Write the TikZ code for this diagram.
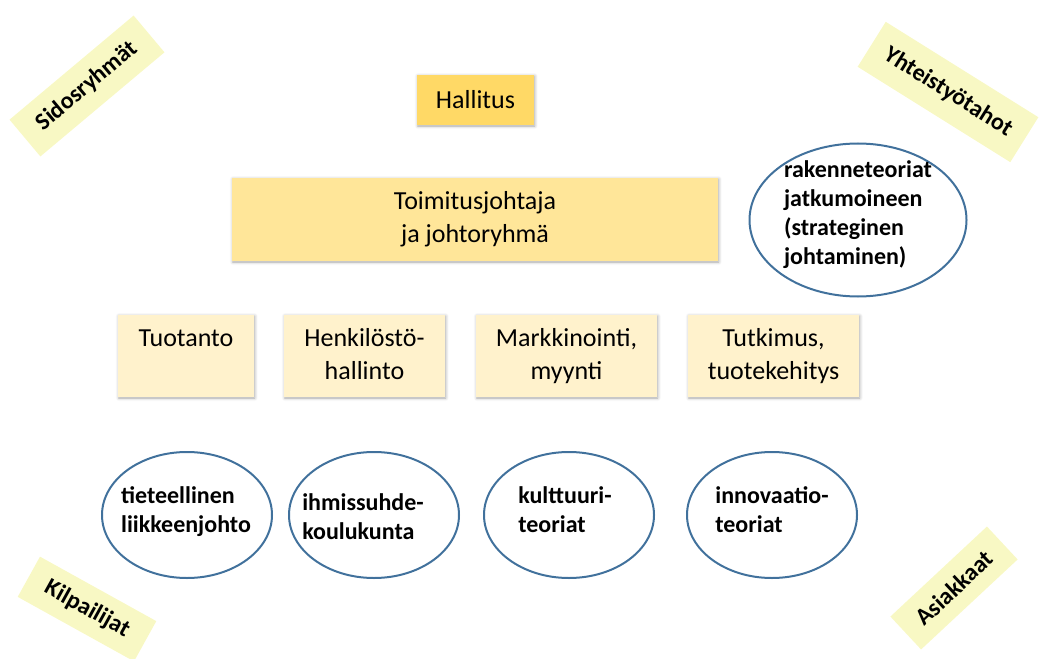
\documentclass[tikz,border=0pt]{standalone}
\usepackage{fontspec}
\setmainfont{Carlito}
\usetikzlibrary{shapes.geometric, shadows.blur}

\definecolor{hallcol}{HTML}{FFD966}
\definecolor{johtocol}{HTML}{FFE699}
\definecolor{unitcol}{HTML}{FFF2CC}
\definecolor{tagcol}{HTML}{F8F8C4}
\definecolor{ringcol}{HTML}{41719C}

\begin{document}
\begin{tikzpicture}[x=0.75pt, y=-0.75pt,
    orgbox/.style={align=center, inner sep=0pt,
        font=\fontsize{19.5}{24.75}\selectfont,
        blur shadow={shadow xshift=0.6pt, shadow yshift=-0.8pt,
            shadow blur radius=2.2pt, shadow opacity=35}},
    unitbox/.style={orgbox, fill=unitcol, minimum height=61.5pt},
    theory/.style={ellipse, draw=ringcol, line width=1.5pt, inner sep=0pt},
    theorytxt/.style={align=left, inner sep=0pt,
        font=\bfseries\fontsize{18}{21.75}\selectfont},
    tag/.style={fill=tagcol, inner sep=0pt,
        font=\bfseries\fontsize{18}{21}\selectfont}]

    \useasboundingbox (0,0) rectangle (1041,659);

    % 1. Management
    \node[orgbox, fill=hallcol, minimum width=87.75pt, minimum height=37.5pt]
        (hallitus) at (475.5,100) {Hallitus};
    \node[orgbox, fill=johtocol, minimum width=364.5pt, minimum height=62.25pt]
        (johto) at (475,219.5) {\strut Toimitusjohtaja\\\strut ja johtoryhmä};

    % 2. Functions (text sits at the top of each box)
    \node[unitbox, minimum width=102pt]    (tuotanto) at (186,356)   {\strut Tuotanto\\\strut};
    \node[unitbox, minimum width=120.75pt] (henk)     at (364.5,356) {\strut Henkilöstö-\\\strut hallinto};
    \node[unitbox, minimum width=135.75pt] (mark)     at (566.5,356) {\strut Markkinointi,\\\strut myynti};
    \node[unitbox, minimum width=128.25pt] (tutk)     at (773.5,356) {\strut Tutkimus,\\\strut tuotekehitys};

    % 3. Theories
    \node[theory, minimum width=162.75pt, minimum height=114.75pt] (rakenne) at (858,220) {};
    \node[theorytxt] (rakennetxt) at (858,215)
        {\strut rakenneteoriat\\\strut jatkumoineen\\\strut (strateginen\\\strut johtaminen)};

    \node[theory, minimum width=127.5pt, minimum height=94.5pt] (tiet) at (187,515) {};
    \node[theory, minimum width=127.5pt, minimum height=94.5pt] (ihm)  at (374,515) {};
    \node[theory, minimum width=127.5pt, minimum height=94.5pt] (kult) at (569,515) {};
    \node[theory, minimum width=127.5pt, minimum height=94.5pt] (inno) at (772,515) {};

    \node[theorytxt] (tiettxt) at (186,512) {\strut tieteellinen\\\strut liikkeenjohto};
    \node[theorytxt] (ihmtxt)  at (363,519) {\strut ihmissuhde-\\\strut koulukunta};
    \node[theorytxt] (kulttxt) at (565,512) {\strut kulttuuri-\\\strut teoriat};
    \node[theorytxt] (innotxt) at (772,512) {\strut innovaatio-\\\strut teoriat};

    % 4. Stakeholders in the corners
    \node[tag, rotate=40,  minimum width=121.5pt, minimum height=36pt]    (sidos)  at (87,86)   {Sidosryhmät};
    \node[tag, rotate=-32, minimum width=135pt,   minimum height=39.75pt] (yhteis) at (948,92)  {Yhteistyötahot};
    \node[tag, rotate=-29, minimum width=99.75pt, minimum height=34.5pt]  (kilp)   at (87,609)  {Kilpailijat};
    \node[tag, rotate=43,  minimum width=99pt,    minimum height=33.75pt] (asiak)  at (954,588) {Asiakkaat};

\end{tikzpicture}
\end{document}
